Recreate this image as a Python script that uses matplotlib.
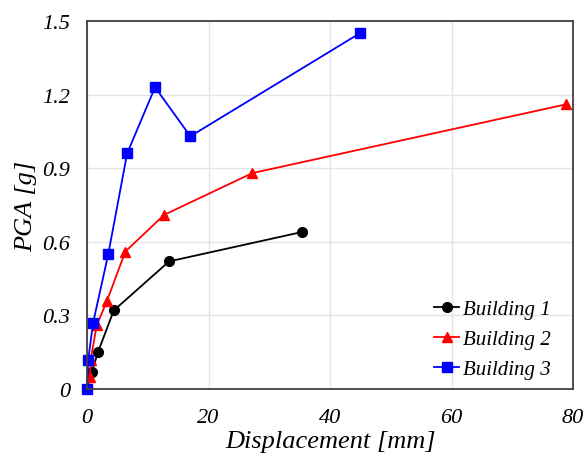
import matplotlib.pyplot as plt

# data
disp_b1 = [0, 0.8, 1.8, 4.4, 13.5, 35.4]
pga_b1 = [0, 0.07, 0.15, 0.32, 0.52, 0.64]

disp_b2 = [0, 0.5, 0.6, 1.6, 3.3, 6.3, 12.7, 27.2, 78.8]
pga_b2 = [0, 0.05, 0.12, 0.26, 0.36, 0.56, 0.71, 0.88, 1.16]

disp_b3 = [0, 0.2, 1.0, 3.5, 6.6, 11.2, 17.0, 44.9]
pga_b3 = [0, 0.12, 0.27, 0.55, 0.96, 1.23, 1.03, 1.45]

x_ticks = [0, 20, 40, 60, 80]
y_ticks = [0, 0.3, 0.6, 0.9, 1.2, 1.5]
y_labels = ['0', '0.3', '0.6', '0.9', '1.2', '1.5']

plt.rcParams['font.family'] = ['Liberation Serif', 'DejaVu Serif']
plt.rcParams['font.style'] = 'italic'

fig = plt.figure(figsize=(5.86, 4.64), dpi=100)
ax = fig.add_axes([0.1485, 0.1595, 0.8295, 0.7931])

ax.plot(disp_b1, pga_b1, color='black', marker='o', markersize=7, lw=1.3, label='Building 1')
ax.plot(disp_b2, pga_b2, color='red', marker='^', markersize=7.5, lw=1.3, label='Building 2')
ax.plot(disp_b3, pga_b3, color='blue', marker='s', markersize=7, lw=1.3, label='Building 3', clip_on=False)

ax.set_xlim(0, 80)
ax.set_ylim(0, 1.5)
ax.set_xticks(x_ticks)
ax.set_yticks(y_ticks)
ax.set_yticklabels(y_labels)
ax.tick_params(length=0, labelsize=16, pad=14)
ax.tick_params(axis='y', pad=12)
ax.grid(color='#e4e4e4', lw=1)
ax.set_axisbelow(True)
for s in ax.spines.values():
    s.set_color('#404040')
    s.set_linewidth(1.3)

ax.set_xlabel('Displacement [mm]', fontsize=19, labelpad=2)
ax.set_ylabel('PGA [g]', fontsize=19, labelpad=4)

ax.legend(loc='lower right', frameon=False, fontsize=15, handlelength=1.2,
          handletextpad=0.2, labelspacing=0.5, borderaxespad=0.3,
          bbox_to_anchor=(0.985, -0.012))

fig.savefig('out.png', dpi=100)
